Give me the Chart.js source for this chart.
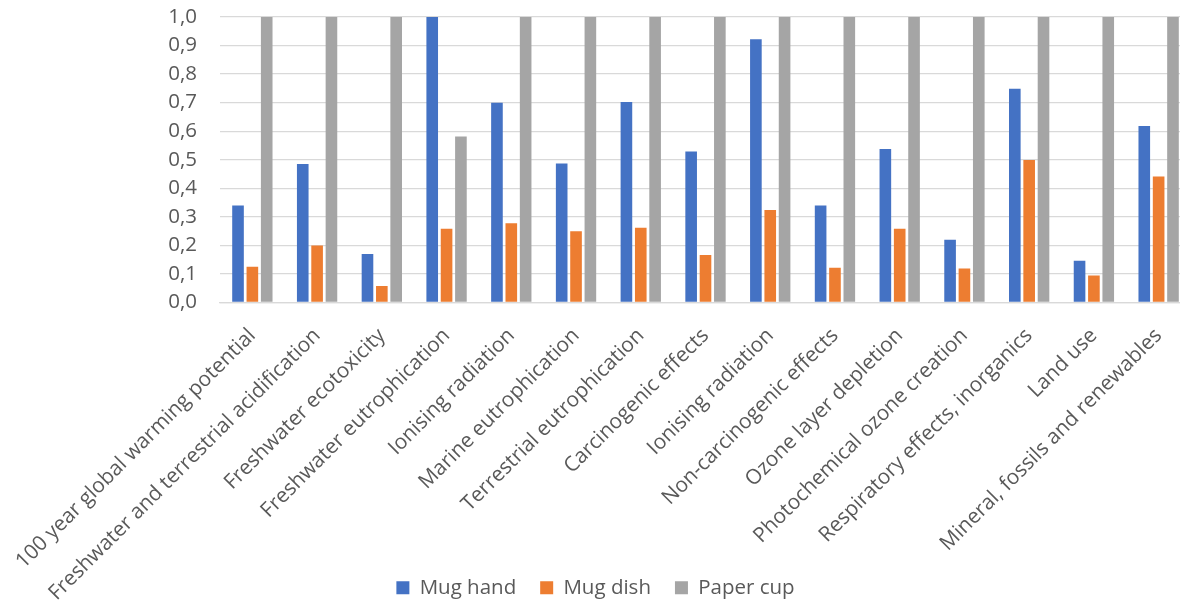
<!DOCTYPE html>
<html>
<head>
<meta charset="utf-8">
<script src="https://cdn.jsdelivr.net/npm/chart.js@4"></script>
<style>
  html, body { margin: 0; padding: 0; background: #ffffff; overflow: hidden; }
  #wrap { width: 1200px; height: 605px; position: relative; }
</style>
</head>
<body>
<div id="wrap"><canvas id="chart" width="1200" height="605"></canvas></div>
<script>
// Impact categories on the x axis
const categories = [
  "100 year global warming potential",
  "Freshwater and terrestrial acidification",
  "Freshwater ecotoxicity",
  "Freshwater eutrophication",
  "Ionising radiation",
  "Marine eutrophication",
  "Terrestrial eutrophication",
  "Carcinogenic effects",
  "Ionising radiation",
  "Non-carcinogenic effects",
  "Ozone layer depletion",
  "Photochemical ozone creation",
  "Respiratory effects, inorganics",
  "Land use",
  "Mineral, fossils and renewables"
];

// Normalised impact per option (max = 1)
const mugHand  = [0.34, 0.485, 0.17, 1.0, 0.70, 0.487, 0.702, 0.529, 0.922, 0.34, 0.538, 0.22, 0.749, 0.146, 0.618];
const mugDish  = [0.125, 0.20, 0.058, 0.258, 0.278, 0.25, 0.262, 0.166, 0.324, 0.122, 0.258, 0.119, 0.499, 0.095, 0.441];
const paperCup = [1.0, 1.0, 1.0, 0.581, 1.0, 1.0, 1.0, 1.0, 1.0, 1.0, 1.0, 1.0, 1.0, 1.0, 1.0];

// Y axis tick labels (decimal comma)
const yTickLabels = ["0,0", "0,1", "0,2", "0,3", "0,4", "0,5", "0,6", "0,7", "0,8", "0,9", "1,0"];

const FONT = "'Open Sans', sans-serif";
const TEXT = "#595959";

new Chart(document.getElementById("chart"), {
  type: "bar",
  data: {
    labels: categories,
    datasets: [
      { label: "Mug hand",  data: mugHand,  backgroundColor: "#4472C4" },
      { label: "Mug dish",  data: mugDish,  backgroundColor: "#ED7D31" },
      { label: "Paper cup", data: paperCup, backgroundColor: "#A5A5A5" }
    ]
  },
  options: {
    responsive: false,
    animation: false,
    datasets: {
      bar: { categoryPercentage: 0.665, barPercentage: 0.81 }
    },
    layout: { padding: { top: 17, right: 9, left: 0, bottom: -3 } },
    plugins: {
      legend: {
        position: "bottom",
        labels: {
          boxWidth: 13, boxHeight: 13, padding: 24,
          color: TEXT, font: { family: FONT, size: 20.5 }
        }
      },
      tooltip: { enabled: false }
    },
    scales: {
      x: {
        grid: { display: false, drawTicks: false },
        border: { display: true, color: "#d9d9d9", width: 1.3 },
        ticks: {
          color: TEXT, font: { family: FONT, size: 20.8 },
          minRotation: 45, maxRotation: 45, autoSkip: false, padding: 21
        },
        afterFit(scale) {
          scale.height = 251;
          scale.paddingLeft = 0;
          scale.paddingRight = 0;
          // let the long rotated labels run down past the axis box
          scale._computeLabelArea = () => undefined;
        }
      },
      y: {
        min: 0, max: 1,
        grid: { color: "#d9d9d9", lineWidth: 1.3, drawTicks: false },
        border: { display: false },
        ticks: {
          stepSize: 0.1, padding: 23, autoSkip: false,
          color: TEXT, font: { family: FONT, size: 20.5 },
          callback: (v) => yTickLabels[Math.round(v * 10)]
        },
        afterFit(scale) {
          scale.width = 220;
          scale.paddingTop = 0;
          scale.paddingBottom = 0;
        }
      }
    }
  }
});
</script>
</body>
</html>
